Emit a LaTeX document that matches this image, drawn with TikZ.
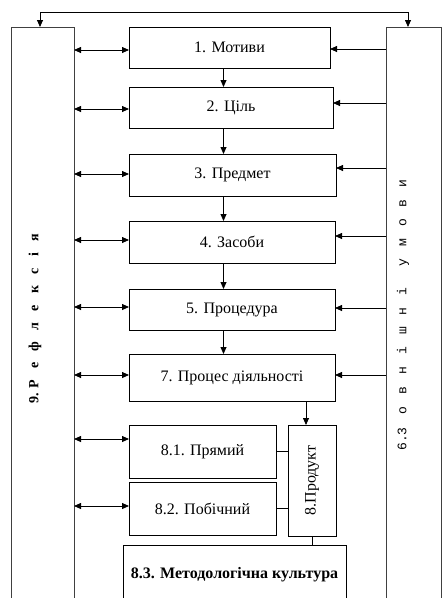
\documentclass[tikz,border=0pt]{standalone}
\usepackage{fontspec}
\setmainfont{Liberation Serif}
\setmonofont{Liberation Mono}
\usetikzlibrary{arrows.meta}
\newcommand\gapL{\hspace{11.2pt}}
\newcommand\gapR{\hspace{12pt}}
\begin{document}
\begin{tikzpicture}[x=1pt,y=-1pt,
  box/.style={draw, line width=0.8pt, inner sep=0pt, outer sep=0pt, anchor=north west, font=\fontsize{16}{19}\selectfont},
  col/.style={draw=black!75, line width=0.8pt, inner sep=0pt, outer sep=0pt, anchor=north west},
  arr/.style={line width=0.8pt, -{Triangle[length=7pt,width=6pt]}},
  darr/.style={line width=0.8pt, {Triangle[length=7pt,width=6pt]}-{Triangle[length=7pt,width=6pt]}},
  ln/.style={line width=0.8pt}]
\useasboundingbox (0,0) rectangle (442,598);
\clip (0,0) rectangle (442,598);
\fill[white] (0,0) rectangle (442,598);
% columns
\node[col, minimum width=63pt, minimum height=600pt] (lcol) at (11,27) {};
\node[col, minimum width=55pt, minimum height=600pt] (rcol) at (386,27) {};
% boxes
\node[box, minimum width=201pt, minimum height=41pt] (b1) at (129,27) {1. Мотиви};
\node[box, minimum width=204pt, minimum height=41pt] (b2) at (129,87) {2. Ціль};
\node[box, minimum width=207pt, minimum height=42pt] (b3) at (129,154) {3. Предмет};
\node[box, minimum width=206pt, minimum height=42pt] (b4) at (129,221) {4. Засоби};
\node[box, minimum width=206pt, minimum height=41pt] (b5) at (129,289) {5. Процедура};
\node[box, minimum width=206pt, minimum height=47pt] (b7) at (129,354) {7. Процес діяльності};
\node[box, minimum width=147pt, minimum height=53pt] (b81) at (129,425) {8.1. Прямий};
\node[box, minimum width=147pt, minimum height=53pt] (b82) at (129,482) {8.2. Побічний};
\node[box, minimum width=48pt, minimum height=111pt] (prod) at (288,425) {};
\node[rotate=90, font=\fontsize{16}{19}\selectfont] (prodt) at (prod.center) {8.Продукт};
\node[box, minimum width=223pt, minimum height=60pt, font=\bfseries\fontsize{16}{19}\selectfont] (b83) at (123,545) {8.3. Методологічна культура};
% side texts
\node[rotate=90, font=\bfseries\fontsize{14}{16}\selectfont] (ltxt) at (35,319) {9.\hspace{5pt}Р\gapL е\gapL ф\gapL л\gapL е\gapL к\gapL с\gapL і\gapL я};
\node[rotate=90, font=\ttfamily\fontsize{13}{15}\selectfont] (rtxt) at (403,315) {6.3\hspace{13.2pt}о\gapR в\gapR н\gapR і\gapR ш\gapR н\gapR і\hspace{21pt}у\gapR м\gapR о\gapR в\gapR и};
% coordinates
\coordinate (vx) at (223.5,0);
\coordinate (px) at (306,0);
\coordinate (tl) at (40,12);
\coordinate (tr) at (408,12);
% top connector
\draw[darr] (lcol.north -| tl) -- (tl) -- (tr) -- (rcol.north -| tr);
% vertical flow
\draw[arr] (b1.south -| vx) -- (b2.north -| vx);
\draw[arr] (b2.south -| vx) -- (b3.north -| vx);
\draw[arr] (b3.south -| vx) -- (b4.north -| vx);
\draw[arr] (b4.south -| vx) -- (b5.north -| vx);
\draw[arr] (b5.south -| vx) -- (b7.north -| vx);
\draw[arr] (b7.south -| px) -- (prod.north -| px);
\draw[ln] (b81.east) -- (prod.west |- b81.east);
\draw[ln] (b82.east) -- (prod.west |- b82.east);
\draw[ln] (prod.south) -- (b83.north -| prod.south);
% right arrows
\foreach \n/\yy in {b1/49, b2/103, b3/168, b4/236, b5/308, b7/375}{
  \coordinate (ry) at (0,\yy);
  \draw[arr] (rcol.west |- ry) -- (\n.east |- ry);
}
% left double arrows
\foreach \n/\yy in {b1/50, b2/109, b3/174, b4/240, b5/307, b7/375, b81/439, b82/506}{
  \coordinate (ly) at (0,\yy);
  \draw[darr] (lcol.east |- ly) -- (\n.west |- ly);
}
\end{tikzpicture}
\end{document}
